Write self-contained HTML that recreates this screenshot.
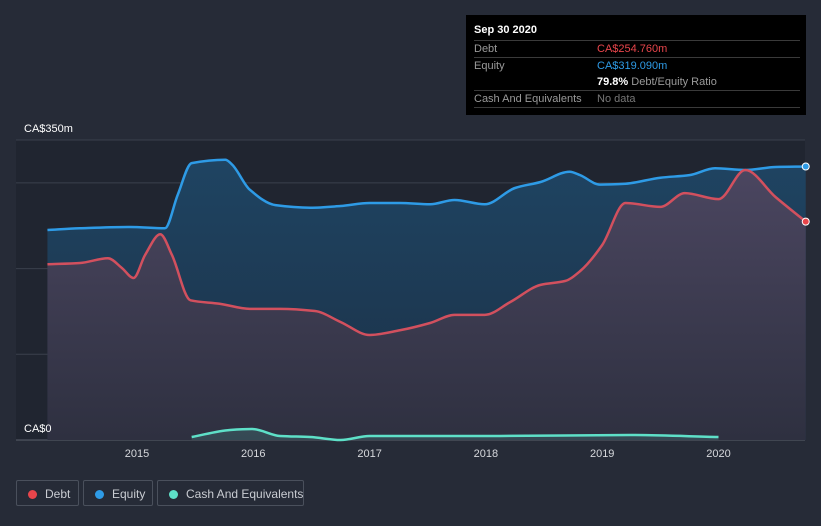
<!DOCTYPE html>
<html><head><meta charset="utf-8"><style>
body{margin:0;background:#262b37;font-family:"Liberation Sans",sans-serif;}
#wrap{position:relative;width:821px;height:526px;overflow:hidden;background:#262b37;}
.tip{position:absolute;left:466px;top:15px;width:340px;height:100px;background:#000;color:#fff;font-size:11px;}
.tip .row{position:absolute;left:8px;right:6px;border-top:1px solid #3a3a3a;height:17px;line-height:17px;}
.lab{color:#9a9a9a;position:absolute;left:0;}
.val{position:absolute;left:123px;}
.leg{position:absolute;top:480px;height:26px;border:1px solid #4a505c;border-radius:2px;color:#c9ccd2;font-size:12px;line-height:26px;box-sizing:border-box;white-space:nowrap;}
.leg i{display:inline-block;width:9px;height:9px;border-radius:50%;margin:0 8px 0 11px;vertical-align:-1px;}
</style></head><body>
<div id="wrap">
<svg id="svg" width="821" height="526" style="position:absolute;left:0;top:0">
<defs>
<linearGradient id="gd" x1="0" y1="0" x2="0" y2="1"><stop offset="0" stop-color="#4b4660"/><stop offset="1" stop-color="#2e3040"/></linearGradient>
<linearGradient id="ge" x1="0" y1="0" x2="0" y2="1"><stop offset="0" stop-color="#1f4462"/><stop offset="1" stop-color="#1b3046"/></linearGradient>
</defs>
<rect x="16" y="140" width="789" height="300" fill="#202530"/>
<g id="grid"></g><g id="marks"></g><g id="axes"></g>
</svg>
<div class="tip">
<div style="position:absolute;left:8px;top:9px;font-weight:bold;font-size:11px">Sep 30 2020</div>
<div class="row" style="top:25px"><span class="lab">Debt</span><span class="val" style="color:#e8454b">CA$254.760m</span></div>
<div class="row" style="top:42px"><span class="lab">Equity</span><span class="val" style="color:#2e9be6">CA$319.090m</span></div>
<div class="row" style="top:59px;border-top:none"><span class="val"><b>79.8%</b> <span style="color:#9a9a9a">Debt/Equity Ratio</span></span></div>
<div class="row" style="top:75px"><span class="lab">Cash And Equivalents</span><span class="val" style="color:#777">No data</span></div>
<div class="row" style="top:92px;height:0"></div>
</div>
<div class="leg" style="left:16px;width:63px"><i style="background:#e8454b"></i>Debt</div>
<div class="leg" style="left:83px;width:70px"><i style="background:#2e9be6"></i>Equity</div>
<div class="leg" style="left:157px;width:147px"><i style="background:#5ee0c8"></i>Cash And Equivalents</div>
</div>
<script>
const eqDates=[2014.23,2014.51,2014.94,2015.24,2015.35,2015.47,2015.76,2015.82,2015.97,2016.19,2016.49,2016.75,2017.00,2017.26,2017.52,2017.73,2017.99,2018.25,2018.47,2018.72,2018.81,2018.98,2019.20,2019.50,2019.75,2019.97,2020.23,2020.49,2020.75];
const eqVals=[245,247,248.5,247,286,323,327,321,292,274,271,273,276.5,276.5,275,280,275,294,301,313,309,298,299,306,309,317,315,318.5,319.09];
const debtDates=[2014.23,2014.51,2014.75,2014.87,2014.97,2015.07,2015.20,2015.30,2015.46,2015.71,2015.97,2016.23,2016.53,2016.75,2017.00,2017.26,2017.52,2017.73,2017.99,2018.21,2018.47,2018.68,2018.81,2019.00,2019.20,2019.50,2019.71,2020.00,2020.23,2020.49,2020.75];
const debtVals=[205,206.5,212,200.7,189,216,240,216,163,159,153,153,150.5,137.7,122.5,128,136.5,146,146,161,181,185.5,197,227.5,276.5,272,288,281,315,283.5,254.76];
const cashDates=[2015.47,2015.80,2015.99,2016.23,2016.49,2016.75,2017.00,2018.12,2019.24,2020.00];
const cashVals=[3.5,11.7,12.8,4.7,3.5,0,4.7,4.7,5.8,3.5];
const yTicks=[0,100,200,300,350];
const xTicks=[2015,2016,2017,2018,2019,2020];
const NS="http://www.w3.org/2000/svg";
const X=t=>137+(t-2015)*116.3;
const Y=v=>440-v*300/350;
function mk(tag,attrs,parent){const e=document.createElementNS(NS,tag);for(const k in attrs)e.setAttribute(k,attrs[k]);document.getElementById(parent).appendChild(e);return e;}
function path(ds,vs){const p=ds.map((d,i)=>[X(d),Y(vs[i])]);const n=p.length;
const sl=[];for(let i=0;i<n-1;i++)sl.push((p[i+1][1]-p[i][1])/(p[i+1][0]-p[i][0]));
const m=[];for(let i=0;i<n;i++){if(i===0)m.push(sl[0]);else if(i===n-1)m.push(sl[n-2]);else{const a=sl[i-1],b=sl[i];m.push(a*b<=0?0:(2*a*b)/(a+b));}}
let s="M"+p[0][0]+","+p[0][1];
for(let i=0;i<n-1;i++){const h=(p[i+1][0]-p[i][0])/3;
s+=` C${p[i][0]+h},${p[i][1]+m[i]*h} ${p[i+1][0]-h},${p[i+1][1]-m[i+1]*h} ${p[i+1][0]},${p[i+1][1]}`;}return s;}
yTicks.forEach(v=>{const g=mk('line',{x1:16,x2:805,y1:Y(v),y2:Y(v),stroke:v===0?'#5a606b':'#3a404c','stroke-width':1},'grid');

});
[[350,'CA$350m'],[0,'CA$0']].forEach(([v,t])=>{const e=mk('text',{x:24,y:Y(v)-8,fill:'#fff','font-size':11},'axes');e.textContent=t;

});
xTicks.forEach(t=>{const e=mk('text',{x:X(t),y:457,fill:'#d6d8dc','font-size':11,'text-anchor':'middle'},'axes');e.textContent=t;

});
function area(ds,vs,fill,name){const d=path(ds,vs)+` L${X(ds[ds.length-1])},${Y(0)} L${X(ds[0])},${Y(0)} Z`;const e=mk('path',{d,fill},'marks');

}
area(eqDates,eqVals,'url(#ge)','equity-area');
area(debtDates,debtVals,'url(#gd)','debt-area');
area(cashDates,cashVals,'rgba(94,224,200,0.15)','cash-area');
function line(ds,vs,c,name){const e=mk('path',{d:path(ds,vs),fill:'none',stroke:c,'stroke-width':2.5},'marks');

}
line(eqDates,eqVals,'#2e9be6','equity-line');
line(debtDates,debtVals,'#d2505e','debt-line');
line(cashDates,cashVals,'#5ee0c8','cash-line');
const d1=mk('circle',{cx:X(eqDates[eqDates.length-1]),cy:Y(eqVals[eqVals.length-1]),r:3.5,fill:'#2e9be6',stroke:'#fff','stroke-width':1},'marks');


const d2=mk('circle',{cx:X(debtDates[debtDates.length-1]),cy:Y(debtVals[debtVals.length-1]),r:3.5,fill:'#e8454b',stroke:'#fff','stroke-width':1},'marks');


</script>
</body></html>
